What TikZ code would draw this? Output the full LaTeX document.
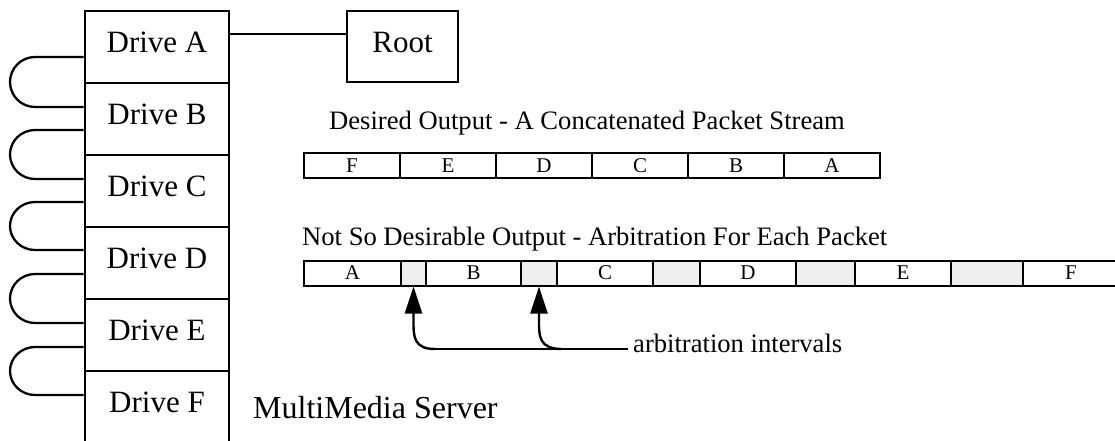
\documentclass[tikz,border=0pt]{standalone}
\usepackage{fontspec}
\setmainfont{Liberation Serif}
\usetikzlibrary{arrows.meta,calc}
\definecolor{gapgray}{HTML}{EEEEEE}
\begin{document}
\begin{tikzpicture}[x=1pt,y=-1pt,
  drivebox/.style={draw,line width=2.8pt,minimum width=144pt,minimum height=72pt,
    inner sep=0pt,text height=41pt,text depth=31pt,font=\fontsize{31}{36}\selectfont},
  rootbox/.style={draw,line width=2.8pt,minimum width=111pt,minimum height=71pt,
    inner sep=0pt,text height=41pt,text depth=30pt,font=\fontsize{31}{36}\selectfont},
  cell/.style={draw,line width=2pt,minimum height=25pt,inner sep=0pt,
    font=\fontsize{21}{24}\selectfont},
  gapcell/.style={cell,fill=gapgray},
  caption/.style={anchor=base west,inner sep=0pt,font=\fontsize{26.6}{30}\selectfont},
  bigcaption/.style={anchor=base west,inner sep=0pt,font=\fontsize{32}{36}\selectfont},
  wire/.style={line width=2.4pt},
  loopwire/.style={line width=2.3pt},
  pointer/.style={line width=2.4pt,-{Triangle[length=27pt,width=17pt]}}
]
\useasboundingbox (0,0) rectangle (1115,440);
\clip (0,0) rectangle (1115,440);

% drive stack
\node[drivebox] (dA) at (157,47)  {Drive A};
\node[drivebox] (dB) at (157,119) {Drive B};
\node[drivebox] (dC) at (157,191) {Drive C};
\node[drivebox] (dD) at (157,263) {Drive D};
\node[drivebox] (dE) at (157,335) {Drive E};
\node[drivebox] (dF) at (157,407) {Drive F};

\node[rootbox] (root) at (402.5,46.5) {Root};
\draw[wire] ([yshift=13pt]dA.east) -- ([yshift=13pt]dA.east -| root.west);

% daisy-chain loops between neighbouring drives
\foreach \yt/\yb in {57/107,130/179,202/250,274/323,347/395}{
  \draw[loopwire] (dA.west |- 0,\yt) -- (35,\yt)
    arc[start angle=90,end angle=270,x radius=25pt,y radius={(\yb-\yt)/2*1pt}]
    -- (dA.west |- 0,\yb);
}

\node[bigcaption] (server) at (253,418) {MultiMedia Server};

% concatenated stream
\node[caption] (desired) at (329,129) {Desired Output - A Concatenated Packet Stream};
\foreach \lab/\cx in {F/352,E/448,D/544,C/640,B/736,A/832}{
  \node[cell,minimum width=96pt] (t\lab) at (\cx,165.5) {\lab};
}

% arbitrated stream
\node[caption] (notso) at (302,245) {Not So Desirable Output - Arbitration For Each Packet};
\node[cell,minimum width=97pt]   (bA) at (352.5,273) {A};
\node[gapcell,minimum width=25pt] (g1) at (413.5,273) {};
\node[cell,minimum width=95pt]   (bB) at (473.5,273) {B};
\node[gapcell,minimum width=36pt] (g2) at (539,273) {};
\node[cell,minimum width=96pt]   (bC) at (605,273) {C};
\node[gapcell,minimum width=47pt] (g3) at (676.5,273) {};
\node[cell,minimum width=96pt]   (bD) at (748,273) {D};
\node[gapcell,minimum width=59pt] (g4) at (825.5,273) {};
\node[cell,minimum width=96pt]   (bE) at (903,273) {E};
\node[gapcell,minimum width=72pt] (g5) at (987,273) {};
\node[cell,minimum width=96pt]   (bF) at (1071,273) {F};

% arbitration interval pointers
\node[caption] (arb) at (633,352) {arbitration intervals};
\coordinate (j1) at (435,349);
\coordinate (j2) at (562,349);
\draw[wire] ([xshift=-5pt,yshift=3pt]arb.base west) -- (j1);
\draw[pointer] (j1) .. controls (g1.south |- 0,349) and (g1.south |- 0,336) .. (g1.south |- 0,322) -- (g1.south);
\draw[pointer] (j2) .. controls (g2.south |- 0,349) and (g2.south |- 0,336) .. (g2.south |- 0,322) -- (g2.south);
\end{tikzpicture}
\end{document}
